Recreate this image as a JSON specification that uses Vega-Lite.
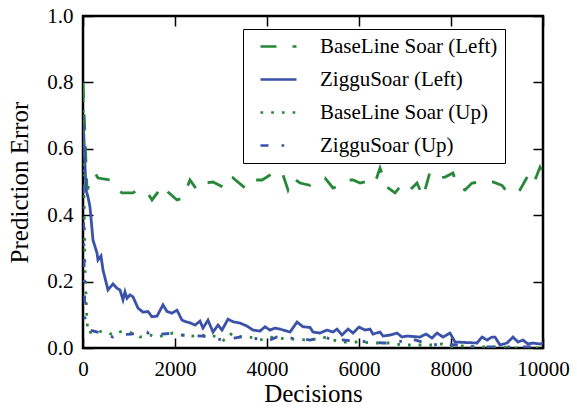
{
  "$schema": "https://vega.github.io/schema/vega-lite/v6.json",
  "width": 460,
  "height": 332,
  "autosize": {"type": "none"},
  "padding": {"left": 83, "top": 16, "right": 34, "bottom": 65},
  "background": "white",
  "config": {
    "view": {"stroke": "black", "strokeWidth": 2.5},
    "axis": {
      "labelFontSize": 21,
      "titleFontSize": 25,
      "titleFontWeight": "normal",
      "labelColor": "black",
      "titleColor": "black",
      "tickColor": "black",
      "tickWidth": 1.5,
      "tickSize": -10,
      "domain": false,
      "grid": false,
      "labelFlush": false,
      "labelOverlap": false
    }
  },
  "resolve": {"axis": {"x": "independent", "y": "independent"}},
  "data": {"values": [
    {"s": "BaseLine Soar (Left)", "x": 0, "y": 0.8},
    {"s": "BaseLine Soar (Left)", "x": 87, "y": 0.476},
    {"s": "BaseLine Soar (Left)", "x": 261, "y": 0.527},
    {"s": "BaseLine Soar (Left)", "x": 326, "y": 0.512},
    {"s": "BaseLine Soar (Left)", "x": 587, "y": 0.506},
    {"s": "BaseLine Soar (Left)", "x": 652, "y": 0.49},
    {"s": "BaseLine Soar (Left)", "x": 848, "y": 0.467},
    {"s": "BaseLine Soar (Left)", "x": 1087, "y": 0.467},
    {"s": "BaseLine Soar (Left)", "x": 1174, "y": 0.476},
    {"s": "BaseLine Soar (Left)", "x": 1391, "y": 0.47},
    {"s": "BaseLine Soar (Left)", "x": 1500, "y": 0.446},
    {"s": "BaseLine Soar (Left)", "x": 1739, "y": 0.49},
    {"s": "BaseLine Soar (Left)", "x": 1848, "y": 0.47},
    {"s": "BaseLine Soar (Left)", "x": 2043, "y": 0.446},
    {"s": "BaseLine Soar (Left)", "x": 2174, "y": 0.452},
    {"s": "BaseLine Soar (Left)", "x": 2326, "y": 0.506},
    {"s": "BaseLine Soar (Left)", "x": 2478, "y": 0.476},
    {"s": "BaseLine Soar (Left)", "x": 2609, "y": 0.497},
    {"s": "BaseLine Soar (Left)", "x": 2826, "y": 0.5},
    {"s": "BaseLine Soar (Left)", "x": 3043, "y": 0.485},
    {"s": "BaseLine Soar (Left)", "x": 3152, "y": 0.482},
    {"s": "BaseLine Soar (Left)", "x": 3261, "y": 0.512},
    {"s": "BaseLine Soar (Left)", "x": 3522, "y": 0.482},
    {"s": "BaseLine Soar (Left)", "x": 3630, "y": 0.506},
    {"s": "BaseLine Soar (Left)", "x": 3891, "y": 0.506},
    {"s": "BaseLine Soar (Left)", "x": 4000, "y": 0.515},
    {"s": "BaseLine Soar (Left)", "x": 4217, "y": 0.536},
    {"s": "BaseLine Soar (Left)", "x": 4348, "y": 0.521},
    {"s": "BaseLine Soar (Left)", "x": 4457, "y": 0.476},
    {"s": "BaseLine Soar (Left)", "x": 4565, "y": 0.512},
    {"s": "BaseLine Soar (Left)", "x": 4717, "y": 0.497},
    {"s": "BaseLine Soar (Left)", "x": 4935, "y": 0.49},
    {"s": "BaseLine Soar (Left)", "x": 5087, "y": 0.506},
    {"s": "BaseLine Soar (Left)", "x": 5261, "y": 0.512},
    {"s": "BaseLine Soar (Left)", "x": 5435, "y": 0.482},
    {"s": "BaseLine Soar (Left)", "x": 5587, "y": 0.49},
    {"s": "BaseLine Soar (Left)", "x": 5739, "y": 0.506},
    {"s": "BaseLine Soar (Left)", "x": 5870, "y": 0.506},
    {"s": "BaseLine Soar (Left)", "x": 6022, "y": 0.497},
    {"s": "BaseLine Soar (Left)", "x": 6283, "y": 0.506},
    {"s": "BaseLine Soar (Left)", "x": 6348, "y": 0.497},
    {"s": "BaseLine Soar (Left)", "x": 6457, "y": 0.542},
    {"s": "BaseLine Soar (Left)", "x": 6609, "y": 0.485},
    {"s": "BaseLine Soar (Left)", "x": 6783, "y": 0.467},
    {"s": "BaseLine Soar (Left)", "x": 6891, "y": 0.485},
    {"s": "BaseLine Soar (Left)", "x": 7000, "y": 0.5},
    {"s": "BaseLine Soar (Left)", "x": 7152, "y": 0.482},
    {"s": "BaseLine Soar (Left)", "x": 7261, "y": 0.497},
    {"s": "BaseLine Soar (Left)", "x": 7391, "y": 0.455},
    {"s": "BaseLine Soar (Left)", "x": 7543, "y": 0.53},
    {"s": "BaseLine Soar (Left)", "x": 7696, "y": 0.512},
    {"s": "BaseLine Soar (Left)", "x": 7870, "y": 0.515},
    {"s": "BaseLine Soar (Left)", "x": 8043, "y": 0.527},
    {"s": "BaseLine Soar (Left)", "x": 8130, "y": 0.49},
    {"s": "BaseLine Soar (Left)", "x": 8304, "y": 0.476},
    {"s": "BaseLine Soar (Left)", "x": 8457, "y": 0.497},
    {"s": "BaseLine Soar (Left)", "x": 8630, "y": 0.5},
    {"s": "BaseLine Soar (Left)", "x": 8783, "y": 0.5},
    {"s": "BaseLine Soar (Left)", "x": 8913, "y": 0.5},
    {"s": "BaseLine Soar (Left)", "x": 9109, "y": 0.49},
    {"s": "BaseLine Soar (Left)", "x": 9217, "y": 0.47},
    {"s": "BaseLine Soar (Left)", "x": 9435, "y": 0.467},
    {"s": "BaseLine Soar (Left)", "x": 9500, "y": 0.476},
    {"s": "BaseLine Soar (Left)", "x": 9717, "y": 0.53},
    {"s": "BaseLine Soar (Left)", "x": 9826, "y": 0.506},
    {"s": "BaseLine Soar (Left)", "x": 9935, "y": 0.545},
    {"s": "BaseLine Soar (Left)", "x": 10000, "y": 0.53},

    {"s": "ZigguSoar (Left)", "x": 0, "y": 0.7},
    {"s": "ZigguSoar (Left)", "x": 65, "y": 0.476},
    {"s": "ZigguSoar (Left)", "x": 109, "y": 0.455},
    {"s": "ZigguSoar (Left)", "x": 152, "y": 0.425},
    {"s": "ZigguSoar (Left)", "x": 217, "y": 0.325},
    {"s": "ZigguSoar (Left)", "x": 304, "y": 0.286},
    {"s": "ZigguSoar (Left)", "x": 326, "y": 0.265},
    {"s": "ZigguSoar (Left)", "x": 391, "y": 0.277},
    {"s": "ZigguSoar (Left)", "x": 435, "y": 0.235},
    {"s": "ZigguSoar (Left)", "x": 543, "y": 0.175},
    {"s": "ZigguSoar (Left)", "x": 652, "y": 0.193},
    {"s": "ZigguSoar (Left)", "x": 739, "y": 0.18},
    {"s": "ZigguSoar (Left)", "x": 804, "y": 0.175},
    {"s": "ZigguSoar (Left)", "x": 870, "y": 0.145},
    {"s": "ZigguSoar (Left)", "x": 913, "y": 0.169},
    {"s": "ZigguSoar (Left)", "x": 957, "y": 0.15},
    {"s": "ZigguSoar (Left)", "x": 1022, "y": 0.16},
    {"s": "ZigguSoar (Left)", "x": 1087, "y": 0.154},
    {"s": "ZigguSoar (Left)", "x": 1196, "y": 0.12},
    {"s": "ZigguSoar (Left)", "x": 1304, "y": 0.108},
    {"s": "ZigguSoar (Left)", "x": 1413, "y": 0.11},
    {"s": "ZigguSoar (Left)", "x": 1500, "y": 0.094},
    {"s": "ZigguSoar (Left)", "x": 1609, "y": 0.096},
    {"s": "ZigguSoar (Left)", "x": 1739, "y": 0.13},
    {"s": "ZigguSoar (Left)", "x": 1826, "y": 0.11},
    {"s": "ZigguSoar (Left)", "x": 1935, "y": 0.105},
    {"s": "ZigguSoar (Left)", "x": 2043, "y": 0.114},
    {"s": "ZigguSoar (Left)", "x": 2152, "y": 0.084},
    {"s": "ZigguSoar (Left)", "x": 2261, "y": 0.078},
    {"s": "ZigguSoar (Left)", "x": 2326, "y": 0.076},
    {"s": "ZigguSoar (Left)", "x": 2435, "y": 0.069},
    {"s": "ZigguSoar (Left)", "x": 2543, "y": 0.081},
    {"s": "ZigguSoar (Left)", "x": 2609, "y": 0.06},
    {"s": "ZigguSoar (Left)", "x": 2717, "y": 0.084},
    {"s": "ZigguSoar (Left)", "x": 2826, "y": 0.048},
    {"s": "ZigguSoar (Left)", "x": 2935, "y": 0.069},
    {"s": "ZigguSoar (Left)", "x": 3022, "y": 0.054},
    {"s": "ZigguSoar (Left)", "x": 3152, "y": 0.087},
    {"s": "ZigguSoar (Left)", "x": 3261, "y": 0.079},
    {"s": "ZigguSoar (Left)", "x": 3413, "y": 0.075},
    {"s": "ZigguSoar (Left)", "x": 3565, "y": 0.066},
    {"s": "ZigguSoar (Left)", "x": 3696, "y": 0.054},
    {"s": "ZigguSoar (Left)", "x": 3848, "y": 0.051},
    {"s": "ZigguSoar (Left)", "x": 3957, "y": 0.064},
    {"s": "ZigguSoar (Left)", "x": 4065, "y": 0.054},
    {"s": "ZigguSoar (Left)", "x": 4174, "y": 0.06},
    {"s": "ZigguSoar (Left)", "x": 4283, "y": 0.057},
    {"s": "ZigguSoar (Left)", "x": 4500, "y": 0.048},
    {"s": "ZigguSoar (Left)", "x": 4652, "y": 0.078},
    {"s": "ZigguSoar (Left)", "x": 4783, "y": 0.064},
    {"s": "ZigguSoar (Left)", "x": 4935, "y": 0.062},
    {"s": "ZigguSoar (Left)", "x": 5000, "y": 0.048},
    {"s": "ZigguSoar (Left)", "x": 5152, "y": 0.045},
    {"s": "ZigguSoar (Left)", "x": 5304, "y": 0.054},
    {"s": "ZigguSoar (Left)", "x": 5435, "y": 0.048},
    {"s": "ZigguSoar (Left)", "x": 5522, "y": 0.057},
    {"s": "ZigguSoar (Left)", "x": 5630, "y": 0.039},
    {"s": "ZigguSoar (Left)", "x": 5761, "y": 0.057},
    {"s": "ZigguSoar (Left)", "x": 5870, "y": 0.045},
    {"s": "ZigguSoar (Left)", "x": 6000, "y": 0.063},
    {"s": "ZigguSoar (Left)", "x": 6130, "y": 0.054},
    {"s": "ZigguSoar (Left)", "x": 6239, "y": 0.057},
    {"s": "ZigguSoar (Left)", "x": 6304, "y": 0.042},
    {"s": "ZigguSoar (Left)", "x": 6457, "y": 0.048},
    {"s": "ZigguSoar (Left)", "x": 6522, "y": 0.036},
    {"s": "ZigguSoar (Left)", "x": 6674, "y": 0.039},
    {"s": "ZigguSoar (Left)", "x": 6826, "y": 0.045},
    {"s": "ZigguSoar (Left)", "x": 6935, "y": 0.033},
    {"s": "ZigguSoar (Left)", "x": 7043, "y": 0.036},
    {"s": "ZigguSoar (Left)", "x": 7326, "y": 0.033},
    {"s": "ZigguSoar (Left)", "x": 7457, "y": 0.042},
    {"s": "ZigguSoar (Left)", "x": 7587, "y": 0.03},
    {"s": "ZigguSoar (Left)", "x": 7696, "y": 0.045},
    {"s": "ZigguSoar (Left)", "x": 7826, "y": 0.033},
    {"s": "ZigguSoar (Left)", "x": 7978, "y": 0.045},
    {"s": "ZigguSoar (Left)", "x": 8087, "y": 0.018},
    {"s": "ZigguSoar (Left)", "x": 8565, "y": 0.015},
    {"s": "ZigguSoar (Left)", "x": 8674, "y": 0.033},
    {"s": "ZigguSoar (Left)", "x": 8783, "y": 0.024},
    {"s": "ZigguSoar (Left)", "x": 8891, "y": 0.033},
    {"s": "ZigguSoar (Left)", "x": 8957, "y": 0.033},
    {"s": "ZigguSoar (Left)", "x": 9065, "y": 0.009},
    {"s": "ZigguSoar (Left)", "x": 9217, "y": 0.015},
    {"s": "ZigguSoar (Left)", "x": 9348, "y": 0.033},
    {"s": "ZigguSoar (Left)", "x": 9457, "y": 0.018},
    {"s": "ZigguSoar (Left)", "x": 9565, "y": 0.024},
    {"s": "ZigguSoar (Left)", "x": 9674, "y": 0.012},
    {"s": "ZigguSoar (Left)", "x": 9783, "y": 0.015},
    {"s": "ZigguSoar (Left)", "x": 9935, "y": 0.012},
    {"s": "ZigguSoar (Left)", "x": 10000, "y": 0.015},

    {"s": "BaseLine Soar (Up)", "x": 0, "y": 0.75},
    {"s": "BaseLine Soar (Up)", "x": 20, "y": 0.5},
    {"s": "BaseLine Soar (Up)", "x": 40, "y": 0.25},
    {"s": "BaseLine Soar (Up)", "x": 87, "y": 0.08},
    {"s": "BaseLine Soar (Up)", "x": 109, "y": 0.045},
    {"s": "BaseLine Soar (Up)", "x": 304, "y": 0.054},
    {"s": "BaseLine Soar (Up)", "x": 413, "y": 0.048},
    {"s": "BaseLine Soar (Up)", "x": 522, "y": 0.048},
    {"s": "BaseLine Soar (Up)", "x": 652, "y": 0.039},
    {"s": "BaseLine Soar (Up)", "x": 848, "y": 0.051},
    {"s": "BaseLine Soar (Up)", "x": 1065, "y": 0.045},
    {"s": "BaseLine Soar (Up)", "x": 1239, "y": 0.033},
    {"s": "BaseLine Soar (Up)", "x": 1457, "y": 0.039},
    {"s": "BaseLine Soar (Up)", "x": 1609, "y": 0.033},
    {"s": "BaseLine Soar (Up)", "x": 1783, "y": 0.039},
    {"s": "BaseLine Soar (Up)", "x": 1957, "y": 0.045},
    {"s": "BaseLine Soar (Up)", "x": 2152, "y": 0.039},
    {"s": "BaseLine Soar (Up)", "x": 2370, "y": 0.036},
    {"s": "BaseLine Soar (Up)", "x": 2543, "y": 0.039},
    {"s": "BaseLine Soar (Up)", "x": 2761, "y": 0.036},
    {"s": "BaseLine Soar (Up)", "x": 2913, "y": 0.036},
    {"s": "BaseLine Soar (Up)", "x": 3087, "y": 0.021},
    {"s": "BaseLine Soar (Up)", "x": 3239, "y": 0.045},
    {"s": "BaseLine Soar (Up)", "x": 3457, "y": 0.033},
    {"s": "BaseLine Soar (Up)", "x": 3630, "y": 0.033},
    {"s": "BaseLine Soar (Up)", "x": 3848, "y": 0.024},
    {"s": "BaseLine Soar (Up)", "x": 4065, "y": 0.033},
    {"s": "BaseLine Soar (Up)", "x": 4239, "y": 0.03},
    {"s": "BaseLine Soar (Up)", "x": 4457, "y": 0.027},
    {"s": "BaseLine Soar (Up)", "x": 4652, "y": 0.027},
    {"s": "BaseLine Soar (Up)", "x": 4870, "y": 0.024},
    {"s": "BaseLine Soar (Up)", "x": 5087, "y": 0.027},
    {"s": "BaseLine Soar (Up)", "x": 5217, "y": 0.033},
    {"s": "BaseLine Soar (Up)", "x": 5435, "y": 0.024},
    {"s": "BaseLine Soar (Up)", "x": 5630, "y": 0.018},
    {"s": "BaseLine Soar (Up)", "x": 5848, "y": 0.018},
    {"s": "BaseLine Soar (Up)", "x": 6065, "y": 0.018},
    {"s": "BaseLine Soar (Up)", "x": 6283, "y": 0.015},
    {"s": "BaseLine Soar (Up)", "x": 6500, "y": 0.015},
    {"s": "BaseLine Soar (Up)", "x": 6717, "y": 0.015},
    {"s": "BaseLine Soar (Up)", "x": 6935, "y": 0.009},
    {"s": "BaseLine Soar (Up)", "x": 7174, "y": 0.009},
    {"s": "BaseLine Soar (Up)", "x": 7370, "y": 0.009},
    {"s": "BaseLine Soar (Up)", "x": 7587, "y": 0.009},
    {"s": "BaseLine Soar (Up)", "x": 7804, "y": 0.012},
    {"s": "BaseLine Soar (Up)", "x": 8043, "y": 0.003},
    {"s": "BaseLine Soar (Up)", "x": 8261, "y": 0.006},
    {"s": "BaseLine Soar (Up)", "x": 8696, "y": 0.003},
    {"s": "BaseLine Soar (Up)", "x": 8913, "y": 0.003},
    {"s": "BaseLine Soar (Up)", "x": 9130, "y": 0.003},
    {"s": "BaseLine Soar (Up)", "x": 9435, "y": 0.0},
    {"s": "BaseLine Soar (Up)", "x": 9652, "y": 0.0},
    {"s": "BaseLine Soar (Up)", "x": 9870, "y": 0.0},
    {"s": "BaseLine Soar (Up)", "x": 10000, "y": 0.002},

    {"s": "ZigguSoar (Up)", "x": 0, "y": 0.6},
    {"s": "ZigguSoar (Up)", "x": 20, "y": 0.3},
    {"s": "ZigguSoar (Up)", "x": 43, "y": 0.08},
    {"s": "ZigguSoar (Up)", "x": 152, "y": 0.054},
    {"s": "ZigguSoar (Up)", "x": 400, "y": 0.045},
    {"s": "ZigguSoar (Up)", "x": 652, "y": 0.033},
    {"s": "ZigguSoar (Up)", "x": 739, "y": 0.039},
    {"s": "ZigguSoar (Up)", "x": 1050, "y": 0.042},
    {"s": "ZigguSoar (Up)", "x": 1391, "y": 0.048},
    {"s": "ZigguSoar (Up)", "x": 1457, "y": 0.039},
    {"s": "ZigguSoar (Up)", "x": 2000, "y": 0.045},
    {"s": "ZigguSoar (Up)", "x": 2109, "y": 0.039},
    {"s": "ZigguSoar (Up)", "x": 2609, "y": 0.036},
    {"s": "ZigguSoar (Up)", "x": 2717, "y": 0.033},
    {"s": "ZigguSoar (Up)", "x": 3043, "y": 0.024},
    {"s": "ZigguSoar (Up)", "x": 3413, "y": 0.033},
    {"s": "ZigguSoar (Up)", "x": 4065, "y": 0.024},
    {"s": "ZigguSoar (Up)", "x": 4217, "y": 0.033},
    {"s": "ZigguSoar (Up)", "x": 4783, "y": 0.027},
    {"s": "ZigguSoar (Up)", "x": 4935, "y": 0.024},
    {"s": "ZigguSoar (Up)", "x": 5240, "y": 0.033},
    {"s": "ZigguSoar (Up)", "x": 5522, "y": 0.021},
    {"s": "ZigguSoar (Up)", "x": 5652, "y": 0.024},
    {"s": "ZigguSoar (Up)", "x": 6239, "y": 0.018},
    {"s": "ZigguSoar (Up)", "x": 6522, "y": 0.015},
    {"s": "ZigguSoar (Up)", "x": 6674, "y": 0.015},
    {"s": "ZigguSoar (Up)", "x": 6957, "y": 0.021},
    {"s": "ZigguSoar (Up)", "x": 7065, "y": 0.03},
    {"s": "ZigguSoar (Up)", "x": 7609, "y": 0.009},
    {"s": "ZigguSoar (Up)", "x": 7761, "y": 0.012},
    {"s": "ZigguSoar (Up)", "x": 8130, "y": 0.009},
    {"s": "ZigguSoar (Up)", "x": 8478, "y": 0.003},
    {"s": "ZigguSoar (Up)", "x": 9130, "y": 0.003},
    {"s": "ZigguSoar (Up)", "x": 9435, "y": 0.003},
    {"s": "ZigguSoar (Up)", "x": 9783, "y": 0.003},
    {"s": "ZigguSoar (Up)", "x": 10000, "y": 0.003}
  ]},
  "layer": [
    {
      "mark": {"type": "line", "strokeWidth": 2.8, "clip": true},
      "encoding": {
        "x": {
          "field": "x", "type": "quantitative",
          "scale": {"domain": [0, 10000], "nice": false, "zero": false},
          "axis": {"orient": "bottom", "values": [0, 2000, 4000, 6000, 8000, 10000], "title": "Decisions", "labelFont": "Times New Roman, Liberation Serif, serif", "titleFont": "Times New Roman, Liberation Serif, serif", "labelPadding": 20, "titlePadding": 2, "format": "d"}
        },
        "y": {
          "field": "y", "type": "quantitative",
          "scale": {"domain": [0, 1], "nice": false},
          "axis": {"orient": "left", "values": [0, 0.2, 0.4, 0.6, 0.8, 1.0], "format": ".1f", "title": "Prediction Error", "labelFont": "Times New Roman, Liberation Serif, serif", "titleFont": "Times New Roman, Liberation Serif, serif", "labelPadding": 20, "titlePadding": 14}
        },
        "color": {
          "field": "s", "type": "nominal",
          "scale": {
            "domain": ["BaseLine Soar (Left)", "ZigguSoar (Left)", "BaseLine Soar (Up)", "ZigguSoar (Up)"],
            "range": ["#27883a", "#3a52a8", "#27883a", "#3a52a8"]
          },
          "legend": {
            "title": null,
            "orient": "none",
            "legendX": 160,
            "legendY": 13,
            "symbolType": "M0,0H4",
            "symbolSize": 324,
            "symbolStrokeWidth": 2.5,
            "labelFont": "Times New Roman, Liberation Serif, serif",
            "labelFontSize": 21,
            "labelColor": "black",
            "labelLimit": 400,
            "labelOffset": 49,
            "rowPadding": 11,
            "padding": 7,
            "strokeColor": "black",
            "fillColor": "white"
          }
        },
        "strokeDash": {
          "field": "s", "type": "nominal",
          "scale": {
            "domain": ["BaseLine Soar (Left)", "ZigguSoar (Left)", "BaseLine Soar (Up)", "ZigguSoar (Up)"],
            "range": [[16, 16], [1, 0], [2.7, 8], [8, 13, 2.7, 13]]
          },
          "legend": null
        }
      }
    },
    {
      "mark": {"type": "line", "strokeOpacity": 0},
      "encoding": {
        "x": {"field": "x", "type": "quantitative", "axis": {"orient": "top", "values": [0, 2000, 4000, 6000, 8000, 10000], "labels": false, "title": null}},
        "y": {"field": "y", "type": "quantitative", "axis": {"orient": "right", "values": [0, 0.2, 0.4, 0.6, 0.8, 1.0], "labels": false, "title": null}},
        "detail": {"field": "s"}
      }
    }
  ]
}
